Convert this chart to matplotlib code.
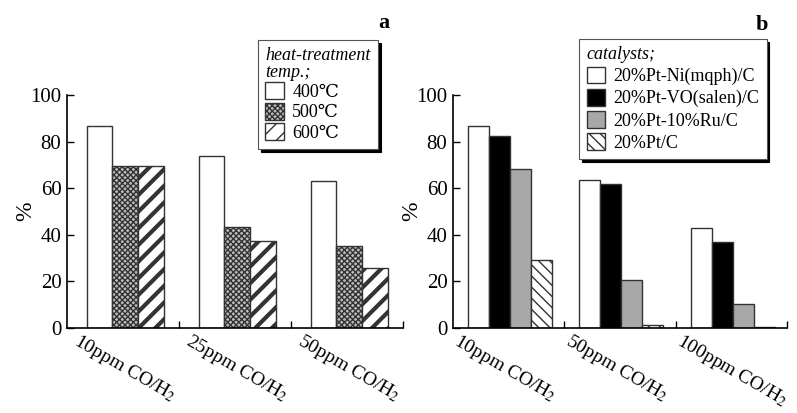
import matplotlib.pyplot as plt
import numpy as np

plt.rcParams['font.family'] = ['Liberation Serif', 'DejaVu Serif']
plt.rcParams['mathtext.fontset'] = 'stix'

## panel a data
cats_a = ['10ppm CO/H$_2$', '25ppm CO/H$_2$', '50ppm CO/H$_2$']
temps = ['400\u2103', '500\u2103', '600\u2103']
t400 = [86.8, 73.7, 63.2]
t500 = [69.5, 43.5, 35.3]
t600 = [69.5, 37.2, 25.9]

## panel b data
cats_b = ['10ppm CO/H$_2$', '50ppm CO/H$_2$', '100ppm CO/H$_2$']
catalysts = ['20%Pt-Ni(mqph)/C', '20%Pt-VO(salen)/C', '20%Pt-10%Ru/C', '20%Pt/C']
pt_ni = [86.8, 63.4, 43.0]
pt_vo = [82.4, 61.7, 36.8]
pt_ru = [68.1, 20.6, 10.4]
pt_c = [29.2, 1.5, 0.5]

## styles: (face, hatch, hatch linewidth)
styles_a = [('white', None, 1.0), ('#bdbdbd', 'xxxxxx', 1.0), ('white', '//', 3.0)]
styles_b = [('white', None, 1.0), ('black', None, 1.0), ('#a8a8a8', None, 1.0), ('white', '\\\\\\', 1.0)]


def draw_panel(ax, cats, series, names, styles, width, shift, title, loc_anchor,
               lab_off, lspace):
    x = np.arange(len(cats))
    n = len(series)
    for i, (vals, name, st) in enumerate(zip(series, names, styles)):
        pos = x + shift + (i - (n - 1) / 2) * width
        bars = ax.bar(pos, vals, width, color=st[0], edgecolor='#333333',
                      linewidth=1.0, hatch=st[1], label=name)
        for b in bars:
            if hasattr(b, 'set_hatch_linewidth'):
                b.set_hatch_linewidth(st[2])
    ax.set_xlim(-0.5, len(cats) - 0.5)
    ax.set_ylim(0, 100)
    ax.set_yticks([0, 20, 40, 60, 80, 100])
    ax.set_xticks(x + 0.5)
    ax.set_xticklabels([])
    ax.tick_params(axis='both', direction='in', length=5, width=1, labelsize=15)
    ax.tick_params(axis='y', pad=4)
    for s in ['top', 'right']:
        ax.spines[s].set_visible(False)
    for s in ['left', 'bottom']:
        ax.spines[s].set_linewidth(1.2)
    ax.set_ylabel('%', fontsize=17, labelpad=-4)
    for i, c in enumerate(cats):
        ax.text(i + lab_off, -0.012, c, transform=ax.get_xaxis_transform(),
                rotation=-30, rotation_mode='anchor', ha='left', va='top',
                fontsize=14)
    leg = ax.legend(title=title, loc='upper right', bbox_to_anchor=loc_anchor,
                    bbox_transform=ax.figure.transFigure, fontsize=13,
                    title_fontproperties={'style': 'italic', 'size': 13},
                    alignment='left', fancybox=False, edgecolor='#555555',
                    framealpha=1, shadow={'color': 'black', 'alpha': 1},
                    handlelength=1.05, handleheight=1.05, labelspacing=lspace,
                    handletextpad=0.45, borderpad=0.4, borderaxespad=0)
    leg.get_title().set_linespacing(0.95)
    leg.get_frame().set_linewidth(0.8)
    return leg


fig = plt.figure(figsize=(7.97, 4.13), dpi=100)
ax1 = fig.add_axes([0.0841, 0.2058, 0.4216, 0.5642])
ax2 = fig.add_axes([0.5684, 0.2058, 0.4190, 0.5642])

draw_panel(ax1, cats_a, [t400, t500, t600], temps, styles_a, 0.23, 0.02,
           'heat-treatment\ntemp.;', (0.474, 0.903), -0.38, 0.1)
draw_panel(ax2, cats_b, [pt_ni, pt_vo, pt_ru, pt_c], catalysts, styles_b, 0.189, 0.0125,
           'catalysts;', (0.962, 0.906), -0.43, 0.2)

fig.text(0.481, 0.945, 'a', fontsize=16, fontweight='bold', ha='center', va='center')
fig.text(0.956, 0.940, 'b', fontsize=16, fontweight='bold', ha='center', va='center')

fig.savefig('out.png', dpi=100)
